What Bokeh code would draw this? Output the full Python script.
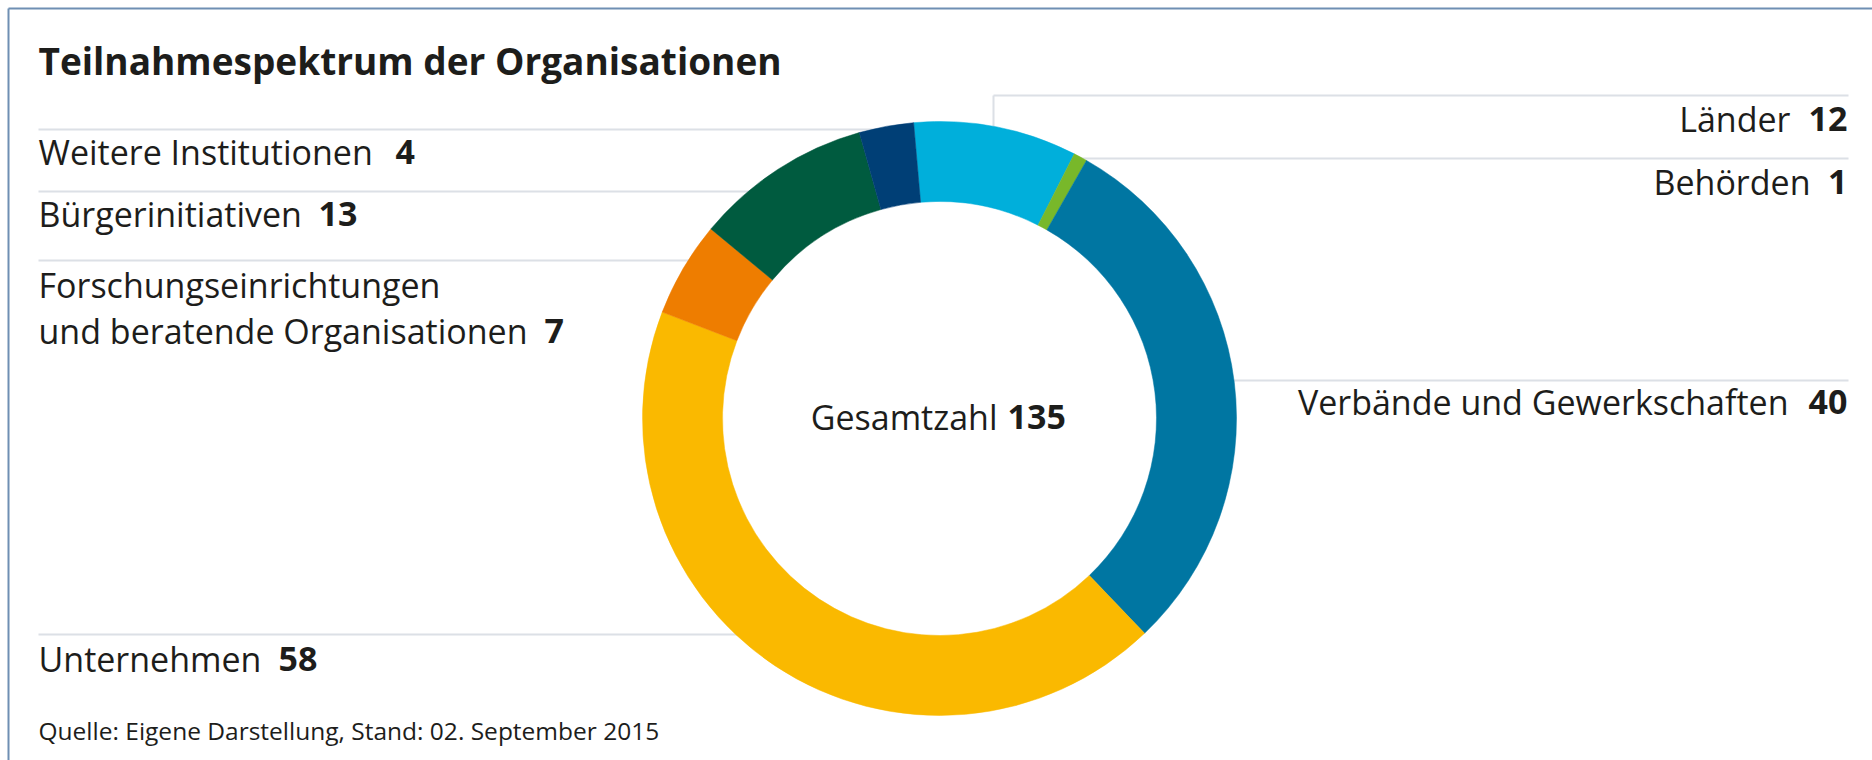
import math
from bokeh.plotting import figure
from bokeh.models import Range1d, ColumnDataSource
from bokeh.core.properties import value
from bokeh.embed import file_html
from bokeh.resources import INLINE

# ---------------- data ----------------
categories = ["Länder", "Behörden", "Verbände und Gewerkschaften", "Unternehmen",
              "Forschungseinrichtungen und beratende Organisationen",
              "Bürgerinitiativen", "Weitere Institutionen"]
counts = [12, 1, 40, 58, 7, 13, 4]
colors = ["#00afdb", "#78b82a", "#0076a2", "#fab900", "#ee7d00", "#005b3f", "#003f76"]
title_text = "Teilnahmespektrum der Organisationen"
total_label = "Gesamtzahl"
source_text = "Quelle: Eigene Darstellung, Stand: 02. September 2015"

# label lines per category (display text)
label_lines = {
    "Länder": ["Länder"],
    "Behörden": ["Behörden"],
    "Verbände und Gewerkschaften": ["Verbände und Gewerkschaften"],
    "Unternehmen": ["Unternehmen"],
    "Forschungseinrichtungen und beratende Organisationen": ["Forschungseinrichtungen", "und beratende Organisationen"],
    "Bürgerinitiativen": ["Bürgerinitiativen"],
    "Weitere Institutionen": ["Weitere Institutionen"],
}

# ---------------- layout (pixel coordinates, y measured from top) ----------------
W, H = 1872, 760
CX, CY = 939, 418
R_OUT, R_IN = 297, 217
START_DEG = -5.0  # clockwise from 12 o'clock
FONT = "Open Sans"
TXT = "#1d1d1b"
LINE_C = "#dce0e6"

# side, name anchor x, number x, baseline y (of last line)
label_layout = {
    "Länder": ("right", 1790, 1847, 130),
    "Behörden": ("right", 1810, 1847, 193),
    "Verbände und Gewerkschaften": ("right", 1788, 1847, 413),
    "Unternehmen": ("left", 38, 278, 670),
    "Forschungseinrichtungen und beratende Organisationen": ("left", 38, 544, 342),
    "Bürgerinitiativen": ("left", 38, 318, 225),
    "Weitere Institutionen": ("left", 38, 395, 163),
}
LINE_GAP = 46
# renderer places the alphabetic baseline slightly lower than requested; compensate
OFF_TITLE = 18
OFF_LABEL = 12
OFF_SRC = 12

def Y(y):
    return H - y

p = figure(width=W, height=H, x_range=Range1d(0, W), y_range=Range1d(0, H),
           output_backend="svg", toolbar_location=None, min_border=0,
           x_axis_type=None, y_axis_type=None)
p.grid.visible = False
p.outline_line_color = None
p.background_fill_color = "white"
p.border_fill_color = "white"

# frame (top & left visible)
p.segment(x0=[8, 8], y0=[Y(8), Y(8)], x1=[W, 8], y1=[Y(8), 0],
          line_color="#6f8fb3", line_width=2)

# separator lines (behind donut)
left_lines_y = [129, 191, 260, 634]
p.segment(x0=[38] * len(left_lines_y), y0=[Y(v) for v in left_lines_y],
          x1=[CX] * len(left_lines_y), y1=[Y(v) for v in left_lines_y],
          line_color=LINE_C, line_width=2)
right_lines_y = [158, 380]
p.segment(x0=[CX] * len(right_lines_y), y0=[Y(v) for v in right_lines_y],
          x1=[1848] * len(right_lines_y), y1=[Y(v) for v in right_lines_y],
          line_color=LINE_C, line_width=2)
# Länder box top and side
p.segment(x0=[993, 993], y0=[Y(95), Y(95)], x1=[1848, 993], y1=[Y(95), Y(158)],
          line_color=LINE_C, line_width=2)

# white hole covering separator lines
p.circle(x=[CX], y=[Y(CY)], radius=R_IN, fill_color="white", line_color=None)

# donut
total = sum(counts)
starts, ends = [], []
acc = START_DEG
for c in counts:
    a1 = acc
    a2 = acc + c / total * 360.0
    starts.append(math.radians(90 - a2))
    ends.append(math.radians(90 - a1))
    acc = a2
src = ColumnDataSource(dict(start=starts, end=ends, color=colors, cat=categories))
p.annular_wedge(x=CX, y=Y(CY), inner_radius=R_IN, outer_radius=R_OUT,
                start_angle="start", end_angle="end", direction="anticlock",
                fill_color="color", line_color="color", line_width=0.5, source=src)

# title
p.text(x=[38], y=[Y(78 - OFF_TITLE)], text=[title_text], text_font=value(FONT),
       text_font_style="bold", text_font_size="37px", text_color=TXT,
       text_baseline="alphabetic", text_align="left")

# labels
LFS = "34px"
for cat, cnt in zip(categories, counts):
    side, nx, numx, by = label_layout[cat]
    lines = label_lines[cat]
    n = len(lines)
    for i, ln in enumerate(lines):
        yy = by - (n - 1 - i) * LINE_GAP - OFF_LABEL
        p.text(x=[nx], y=[Y(yy)], text=[ln], text_font=value(FONT),
               text_font_size=LFS, text_color=TXT, text_baseline="alphabetic",
               text_align="left" if side == "left" else "right")
    p.text(x=[numx], y=[Y(by - OFF_LABEL)], text=[str(cnt)], text_font=value(FONT),
           text_font_style="bold", text_font_size=LFS, text_color=TXT,
           text_baseline="alphabetic",
           text_align="left" if side == "left" else "right")

# center total
p.text(x=[997], y=[Y(428 - OFF_LABEL)], text=[total_label], text_font=value(FONT),
       text_font_size=LFS, text_color=TXT, text_baseline="alphabetic", text_align="right")
p.text(x=[1007], y=[Y(428 - OFF_LABEL)], text=[str(total)], text_font=value(FONT),
       text_font_style="bold", text_font_size=LFS, text_color=TXT,
       text_baseline="alphabetic", text_align="left")

# source
p.text(x=[38], y=[Y(742 - OFF_SRC)], text=[source_text], text_font=value(FONT),
       text_font_size="24.5px", text_color=TXT, text_baseline="alphabetic", text_align="left")

open("out.html", "w").write(file_html(p, INLINE))
